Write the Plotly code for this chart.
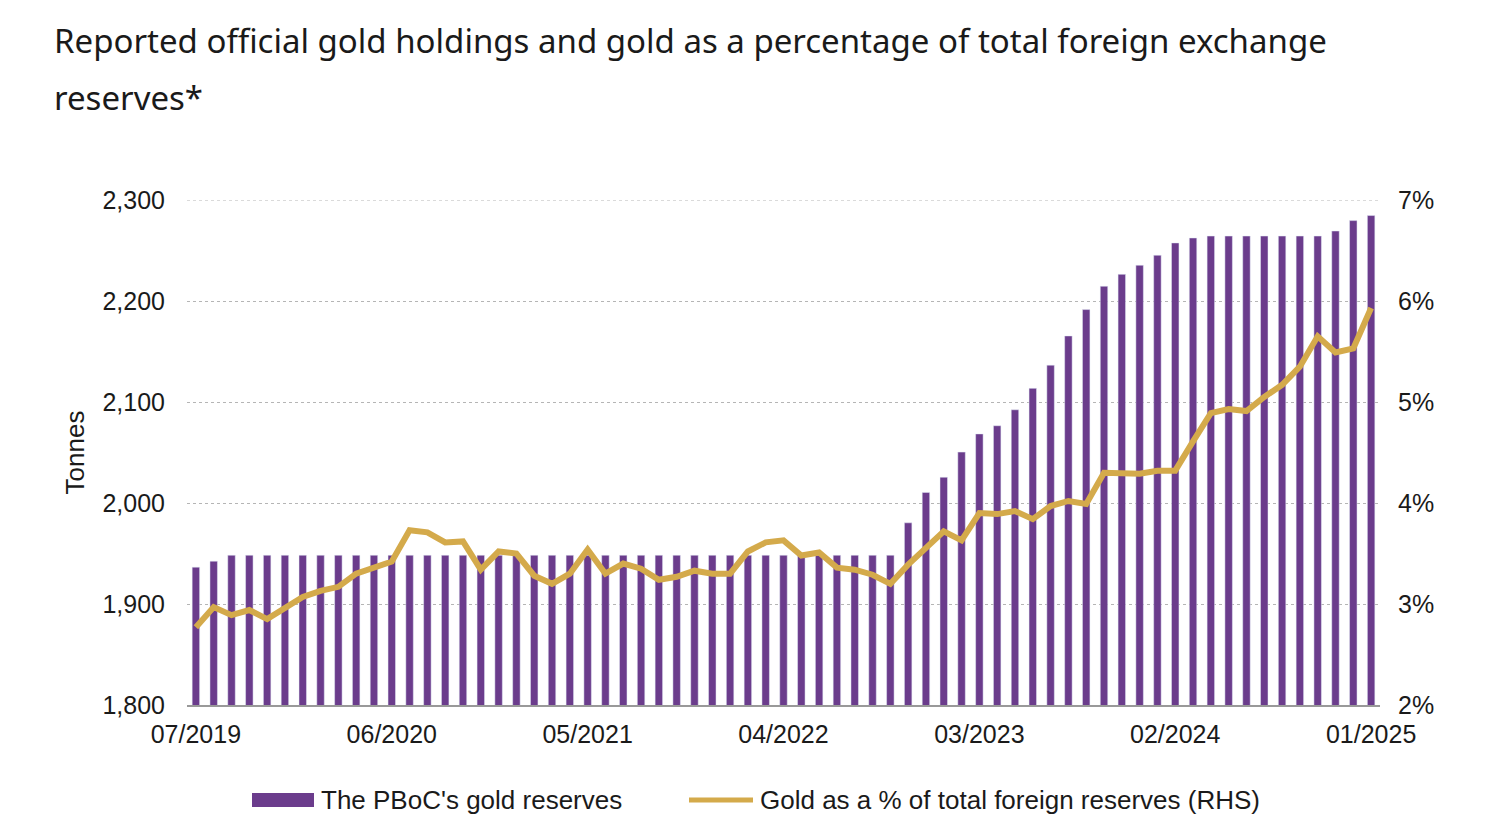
import pandas as pd
import plotly.graph_objects as go

# Monthly categories 07/2019 .. 01/2025
months = [d.strftime("%m/%Y") for d in pd.date_range("2019-07-01", "2025-01-01", freq="MS")]

# PBoC gold reserves (tonnes)
gold_tonnes = [
    1936.5, 1942.4, 1948.3, 1948.3, 1948.3, 1948.3,            # 2019 Jul-Dec
    1948.3, 1948.3, 1948.3, 1948.3, 1948.3, 1948.3,            # 2020 Jan-Jun
    1948.3, 1948.3, 1948.3, 1948.3, 1948.3, 1948.3,            # 2020 Jul-Dec
    1948.3, 1948.3, 1948.3, 1948.3, 1948.3, 1948.3,            # 2021 Jan-Jun
    1948.3, 1948.3, 1948.3, 1948.3, 1948.3, 1948.3,            # 2021 Jul-Dec
    1948.3, 1948.3, 1948.3, 1948.3, 1948.3, 1948.3,            # 2022 Jan-Jun
    1948.3, 1948.3, 1948.3, 1948.3, 1980.4, 2010.5,            # 2022 Jul-Dec
    2025.5, 2050.4, 2068.4, 2076.5, 2092.3, 2113.5,            # 2023 Jan-Jun
    2136.5, 2165.4, 2191.5, 2214.6, 2226.4, 2235.4,            # 2023 Jul-Dec
    2245.3, 2257.5, 2262.4, 2264.3, 2264.3, 2264.3,            # 2024 Jan-Jun
    2264.3, 2264.3, 2264.3, 2264.3, 2269.3, 2279.6,            # 2024 Jul-Dec
    2284.6,                                                    # 2025 Jan
]

# Gold as % of total foreign reserves (RHS)
gold_pct = [
    2.77, 2.97, 2.89, 2.94, 2.85, 2.96,
    3.07, 3.13, 3.17, 3.30, 3.36, 3.42,
    3.73, 3.71, 3.61, 3.62, 3.34, 3.52,
    3.50, 3.28, 3.20, 3.30, 3.54, 3.30,
    3.40, 3.35, 3.24, 3.27, 3.33, 3.30,
    3.30, 3.52, 3.61, 3.63, 3.48, 3.51,
    3.36, 3.34, 3.29, 3.20, 3.39, 3.55,
    3.72, 3.63, 3.90, 3.89, 3.92, 3.84,
    3.97, 4.02, 3.99, 4.30, 4.30, 4.29,
    4.32, 4.32, 4.61, 4.89, 4.93, 4.91,
    5.05, 5.17, 5.35, 5.65, 5.49, 5.53,
    5.93,
]

tick_labels = ["07/2019", "06/2020", "05/2021", "04/2022", "03/2023", "02/2024", "01/2025"]
left_ticks = [1800, 1900, 2000, 2100, 2200, 2300]
left_labels = ["1,800", "1,900", "2,000", "2,100", "2,200", "2,300"]
right_ticks = [2, 3, 4, 5, 6, 7]
right_labels = ["2%", "3%", "4%", "5%", "6%", "7%"]

title_line1 = "Reported official gold holdings and gold as a percentage of total foreign exchange"
title_line2 = "reserves*"
legend_bar = "The PBoC's gold reserves"
legend_line = "Gold as a % of total foreign reserves (RHS)"

PURPLE = "#6b3c8c"
GOLD = "#d4aa4b"
TEXT = "#1a1a1a"
GRID = "#b5b5b5"
FONT = "Liberation Sans, Arial, sans-serif"

# plot area geometry in px (for paper conversion of legend/title chrome)
W, H = 1500, 836
L, R, T, B = 187, 120, 200, 131
PW, PH = W - L - R, H - T - B

def px_x(px):
    return (px - L) / PW

def px_y(py):
    return (H - B - py) / PH

fig = go.Figure()
fig.add_trace(go.Bar(x=months, y=gold_tonnes, marker_color=PURPLE, name=legend_bar,
                     showlegend=False, yaxis="y"))
fig.add_trace(go.Scatter(x=months, y=gold_pct, mode="lines", name=legend_line,
                         line=dict(color=GOLD, width=6), showlegend=False, yaxis="y2"))

fig.update_layout(
    width=W, height=H,
    margin=dict(l=L, r=R, t=T, b=B, pad=0),
    paper_bgcolor="white", plot_bgcolor="white",
    bargap=0.58,
    font=dict(family=FONT, size=25, color=TEXT),
    xaxis=dict(type="category", tickmode="array", tickvals=tick_labels, ticktext=tick_labels,
               showgrid=False, showline=True, linecolor="#999999", linewidth=1.5,
               ticks="outside", ticklen=6, tickcolor="rgba(0,0,0,0)",
               tickfont=dict(size=25, color=TEXT), range=[-0.5, len(months) - 0.5]),
    yaxis=dict(range=[1800, 2300], tickmode="array", tickvals=left_ticks, ticktext=left_labels,
               showgrid=True, gridcolor=GRID, griddash="dot", gridwidth=1,
               zeroline=False, showline=False,
               ticks="outside", ticklen=16, tickcolor="rgba(0,0,0,0)",
               tickfont=dict(size=25, color=TEXT),
               title=dict(text="Tonnes", font=dict(size=26, color=TEXT), standoff=10)),
    yaxis2=dict(range=[2, 7], tickmode="array", tickvals=right_ticks, ticktext=right_labels,
                overlaying="y", side="right",
                showgrid=False, zeroline=False, showline=False,
                ticks="outside", ticklen=12, tickcolor="rgba(0,0,0,0)",
                tickfont=dict(size=25, color=TEXT)),
    showlegend=False,
)

# top gridline (at range edge)
fig.add_shape(type="line", xref="paper", yref="y", x0=0, x1=1, y0=2300, y1=2300,
              line=dict(color=GRID, width=1, dash="dot"), layer="below")

# Title (two lines, generous line spacing)
TITLE_FONT = dict(family="Noto Sans, Open Sans, sans-serif", size=33, color=TEXT)
fig.add_annotation(text=title_line1, xref="paper", yref="paper", x=px_x(52), y=px_y(41),
                   xanchor="left", yanchor="middle", showarrow=False, font=TITLE_FONT)
fig.add_annotation(text=title_line2, xref="paper", yref="paper", x=px_x(52), y=px_y(97),
                   xanchor="left", yanchor="middle", showarrow=False, font=TITLE_FONT)

# Custom legend
fig.add_shape(type="rect", xref="paper", yref="paper", x0=px_x(252), x1=px_x(314),
              y0=px_y(807), y1=px_y(793), fillcolor=PURPLE, line=dict(width=0))
fig.add_annotation(text=legend_bar, xref="paper", yref="paper", x=px_x(319), y=px_y(800),
                   xanchor="left", yanchor="middle", showarrow=False,
                   font=dict(size=26, color=TEXT))
fig.add_shape(type="line", xref="paper", yref="paper", x0=px_x(689), x1=px_x(753),
              y0=px_y(800), y1=px_y(800), line=dict(color=GOLD, width=5))
fig.add_annotation(text=legend_line, xref="paper", yref="paper", x=px_x(758), y=px_y(800),
                   xanchor="left", yanchor="middle", showarrow=False,
                   font=dict(size=26, color=TEXT))

fig.write_html("out.html")
